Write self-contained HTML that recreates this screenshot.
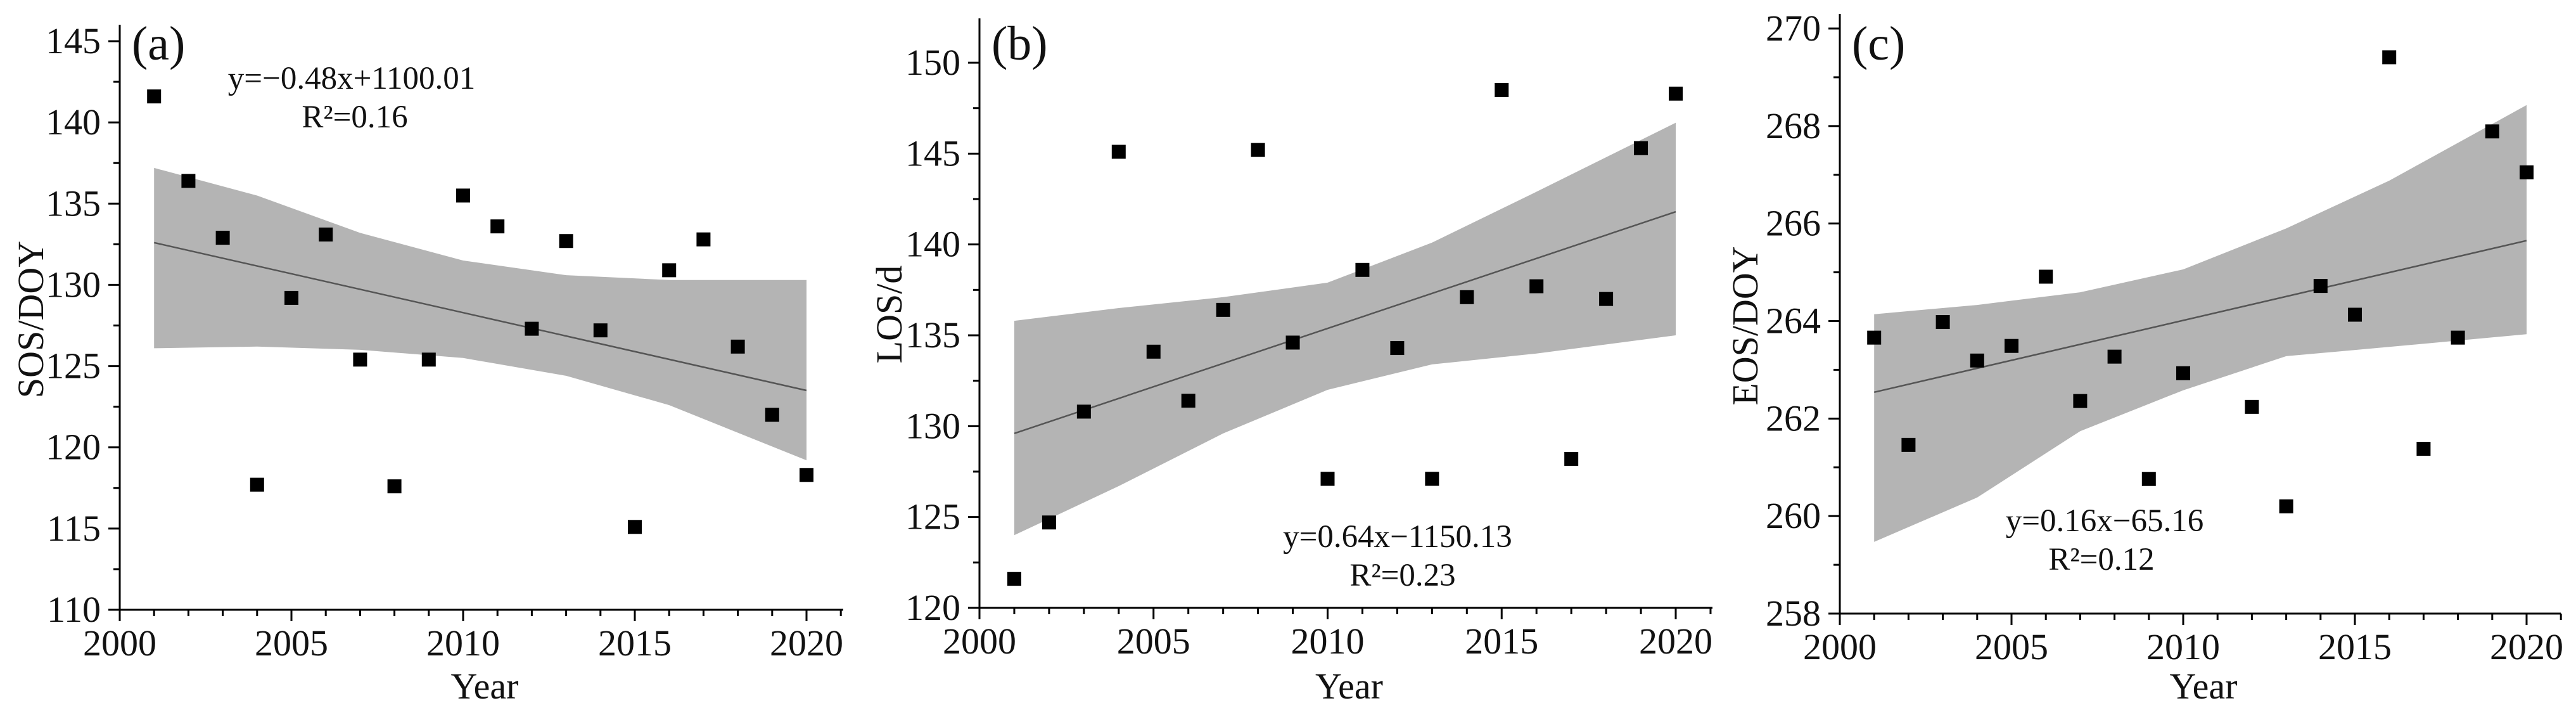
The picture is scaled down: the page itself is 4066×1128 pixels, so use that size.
<!DOCTYPE html>
<html><head><meta charset="utf-8"><style>
html,body{margin:0;padding:0;background:#fff;}
svg{display:block;font-family:"Liberation Serif",serif;}
</style></head><body>
<svg id="fig" width="4066" height="1128" viewBox="0 0 4066 1128" xmlns="http://www.w3.org/2000/svg"></svg>
<script>
const years=[2001,2002,2003,2004,2005,2006,2007,2008,2009,2010,2011,2012,2013,2014,2015,2016,2017,2018,2019,2020];
const sosValues=[141.6,136.4,132.9,117.7,129.2,133.1,125.4,117.6,125.4,135.5,133.6,127.3,132.7,127.2,115.1,130.9,132.8,126.2,122.0,118.3];
const losValues=[121.6,124.7,130.8,145.1,134.1,131.4,136.4,145.2,134.6,127.1,138.6,134.3,127.1,137.1,148.5,137.7,128.2,137.0,145.3,148.3];
const eosValues=[263.66,261.46,263.98,263.19,263.49,264.91,262.36,263.27,260.76,262.93,null,262.24,260.20,264.72,264.13,269.41,261.38,263.66,267.89,267.05];
const bandYears=[2001,2004,2007,2010,2013,2016,2020];
const sosUpper=[137.2,135.5,133.2,131.5,130.6,130.3,130.3];
const sosLower=[126.1,126.2,126.0,125.5,124.4,122.6,119.2];
const losUpper=[135.8,136.5,137.1,137.9,140.1,142.9,146.7];
const losLower=[124.0,126.7,129.6,132.0,133.4,134.0,135.0];
const eosUpper=[264.14,264.33,264.59,265.06,265.90,266.88,268.43];
const eosLower=[259.47,260.38,261.74,262.58,263.28,263.47,263.73];
const trendYears=[2001,2020];
const sosTrend=[132.6,123.5];
const losTrend=[129.6,141.8];
const eosTrend=[262.54,265.65];
const sosTicks=[110,115,120,125,130,135,140,145];
const losTicks=[120,125,130,135,140,145,150];
const eosTicks=[258,260,262,264,266,268,270];
const yearTicks=[2000,2005,2010,2015,2020];

const NS="http://www.w3.org/2000/svg";
const svg=document.getElementById('fig');
function mk(tag,attrs,parent){const e=document.createElementNS(NS,tag);for(const k in attrs)e.setAttribute(k,attrs[k]);(parent||svg).appendChild(e);return e;}

const panels=[
 {id:'a',label:'(a)',title:'SOS/DOY',vals:sosValues,up:sosUpper,lo:sosLower,tr:sosTrend,ticks:sosTicks,minorStep:2.5,
  x0:189,x20:1273,xEnd:1331,yTop:39,yMinV:110,yMaxV:145,yMinP:962,yMaxP:65,titleX:48,titleY:504,
  eq:'y=−0.48x+1100.01',r2:'R²=0.16',eqX:555,eqY:140,r2X:560,r2Y:201},
 {id:'b',label:'(b)',title:'LOS/d',vals:losValues,up:losUpper,lo:losLower,tr:losTrend,ticks:losTicks,minorStep:2.5,
  x0:1546,x20:2645,xEnd:2703,yTop:29,yMinV:120,yMaxV:150,yMinP:959,yMaxP:99,titleX:1403,titleY:496,
  eq:'y=0.64x−1150.13',r2:'R²=0.23',eqX:2206,eqY:863,r2X:2214,r2Y:924},
 {id:'c',label:'(c)',title:'EOS/DOY',vals:eosValues,up:eosUpper,lo:eosLower,tr:eosTrend,ticks:eosTicks,minorStep:1,
  x0:2904,x20:3988,xEnd:4042,yTop:22,yMinV:258,yMaxV:270,yMinP:968,yMaxP:45,titleX:2754,titleY:514,
  eq:'y=0.16x−65.16',r2:'R²=0.12',eqX:3322,eqY:838,r2X:3317,r2Y:899}
];

panels.forEach(p=>{
  const g=mk('g',{});
  
  
  const X=v=>p.x0+(v-2000)*(p.x20-p.x0)/20;
  const Y=v=>p.yMinP+(v-p.yMinV)*(p.yMaxP-p.yMinP)/(p.yMaxV-p.yMinV);
  let d='';
  p.up.forEach((v,i)=>{d+=(i?'L':'M')+X(bandYears[i]).toFixed(1)+','+Y(v).toFixed(1);});
  for(let i=p.lo.length-1;i>=0;i--){d+='L'+X(bandYears[i]).toFixed(1)+','+Y(p.lo[i]).toFixed(1);}
  const band=mk('path',{d:d+'Z',fill:'#b4b4b4',stroke:'none'},g);
  
  
  const tl=mk('line',{x1:X(trendYears[0]),y1:Y(p.tr[0]),x2:X(trendYears[1]),y2:Y(p.tr[1]),stroke:'#555',"stroke-width":2.5},g);
  
  
  p.vals.forEach((v,i)=>{
    if(v===null)return;
    const r=mk('rect',{x:X(years[i])-11,y:Y(v)-11,width:22,height:22,fill:'#000'},g);
    
    
  });
  const ax=mk('path',{d:`M${p.x0},${p.yTop}V${p.yMinP}H${p.xEnd}`,fill:'none',stroke:'#000',"stroke-width":3},g);
  
  
  for(let yr=2000;yr<=2021;yr++){
    const major=yr%5===0;
    mk('line',{x1:X(yr),x2:X(yr),y1:p.yMinP,y2:p.yMinP+(major?18:10),stroke:'#000',"stroke-width":3},g);
  }
  yearTicks.forEach(yr=>{
    const t=mk('text',{x:X(yr),y:p.yMinP+72,"text-anchor":"middle","font-size":58,fill:'#111'},g);
    t.textContent=yr;
    
    
  });
  for(let v=p.yMinV;v<=p.yMaxV+p.minorStep*0.99;v+=p.minorStep){
    const yy=Y(v); if(yy<p.yTop)break;
    const major=Math.abs((v-p.yMinV)/(p.minorStep*2)-Math.round((v-p.yMinV)/(p.minorStep*2)))<1e-6;
    mk('line',{x1:p.x0,x2:p.x0-(major?18:10),y1:yy,y2:yy,stroke:'#000',"stroke-width":3},g);
  }
  p.ticks.forEach(v=>{
    const t=mk('text',{x:p.x0-30,y:Y(v)+19,"text-anchor":"end","font-size":58,fill:'#111'},g);
    t.textContent=v;
    
    
  });
  const xt=mk('text',{x:(p.x0+p.xEnd)/2+5,y:1102,"text-anchor":"middle","font-size":58,fill:'#111'},g);
  xt.textContent='Year';
  
  
  const yt=mk('text',{x:p.titleX,y:p.titleY,"text-anchor":"middle","font-size":58,fill:'#111',transform:`rotate(-90 ${p.titleX} ${p.titleY}) translate(0 20)`},g);
  yt.textContent=p.title;
  
  
  const pl=mk('text',{x:p.x0+19,y:94,"font-size":76,fill:'#111'},g);
  pl.textContent=p.label;
  
  
  const eq=mk('text',{x:p.eqX,y:p.eqY,"text-anchor":"middle","font-size":51,fill:'#111'},g);
  eq.textContent=p.eq;
  
  
  const r2=mk('text',{x:p.r2X,y:p.r2Y,"text-anchor":"middle","font-size":51,fill:'#111'},g);
  r2.textContent=p.r2;
  
  
});
</script>
</body></html>
